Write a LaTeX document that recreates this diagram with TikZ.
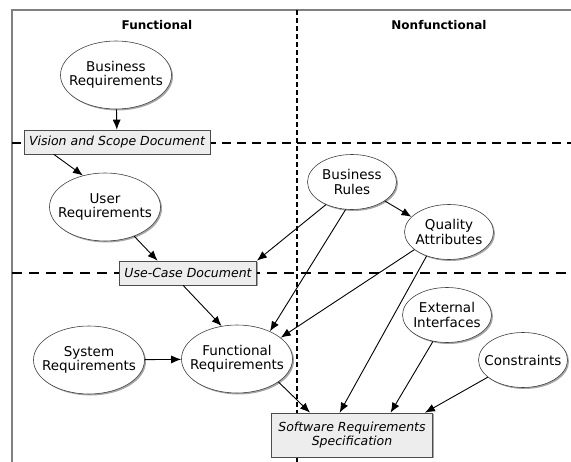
\documentclass[tikz,border=0pt]{standalone}
\usepackage{fontspec}
\setmainfont{DejaVu Sans}
\usetikzlibrary{
    arrows.meta,
    shapes,
    shadows,
    positioning
}

\begin{document}
\begin{tikzpicture}[x=1pt, y=-1pt,
        >={Latex[length=10pt,width=8pt]},
        font=\fontsize{13.5}{14.5}\selectfont,
        shade/.style={drop shadow={shadow xshift=1.5pt, shadow yshift=-1.5pt, opacity=0.35, fill=black}},
        req/.style={ellipse, draw=black!75, fill=white, line width=0.6pt, inner sep=-10pt, align=center,
            minimum width=111pt, minimum height=68pt, shade},
        nfreq/.style={req, minimum width=89pt, minimum height=55pt},
        doc/.style={rectangle, draw=black!70, fill=black!7, line width=0.6pt, inner xsep=5pt, align=center,
            minimum height=24pt, font=\fontsize{12.5}{14}\selectfont\itshape, shade},
        heading/.style={font=\fontsize{12}{14}\selectfont\bfseries}
    ]
                        \useasboundingbox (0, 0) rectangle (571, 462);
                        \draw[black!50, line width=1.5pt] (571, 10) -- (12, 10) -- (12, 462);
                        \draw[line width=1.3pt, dash pattern=on 5pt off 3pt] (297, 10) -- (297, 462);
                        \draw[line width=2.6pt, dash pattern=on 9pt off 6pt] (12, 143) -- (571, 143);
                        \draw[line width=1.4pt, dash pattern=on 10pt off 7pt] (12, 273) -- (571, 273);

                        \node[heading] (fhead) at (157, 25) {Functional};
                        \node[heading] (nfhead) at (439, 25) {Nonfunctional};

                        \node[req] (breq) at (116, 75) {Business\\Requirements};
                        \node[doc] (vsd) at (117, 142) {Vision and Scope Document};
                        \node[req] (ureq) at (105, 207) {User\\Requirements};
                        \node[doc] (ucd) at (188, 273) {Use-Case Document};
                        \node[req] (sreq) at (89, 360) {System\\Requirements};
                        \node[req] (freq) at (237, 359) {Functional\\Requirements};
                        \node[nfreq] (brules) at (352, 182) {Business\\Rules};
                        \node[nfreq] (qattr) at (449, 232) {Quality\\Attributes};
                        \node[nfreq] (extif) at (447, 315) {External\\Interfaces};
                        \node[nfreq] (cons) at (523, 360) {Constraints};
                        \node[doc, minimum width=161pt, minimum height=44pt] (srs) at (352, 435)
                            {Software Requirements\\Specification};

                        \draw[line width=0.9pt]
                        (breq) edge[->] (vsd)
                        (vsd.191) edge[->] (ureq.125)
                        (ureq.-45) edge[->] (ucd.158)
                        (brules.221) edge[->] (ucd.north east)
                        (brules.-30) edge[->] (qattr.158)
                        (ucd.248) edge[->] (freq.115)
                        (sreq) edge[->] (freq)
                        (brules.257) edge[->] (freq.40)
                        (qattr.207) edge[->] (freq.26)
                        (freq.-29) edge[->] (srs.152)
                        (qattr.227) edge[->] (srs.119)
                        (extif.242) edge[->] (srs.30)
                        (cons.206) edge[->] (srs.17);
\end{tikzpicture}
\end{document}
